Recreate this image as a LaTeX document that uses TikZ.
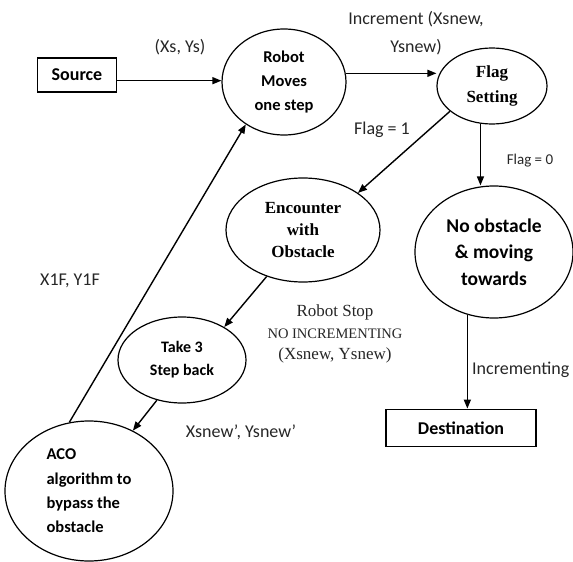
\documentclass[tikz,border=0pt]{standalone}
\usepackage{fontspec}
\setmainfont{Liberation Serif}
\newfontfamily\calibri{Carlito}
\usetikzlibrary{shapes.geometric,arrows.meta}

\begin{document}
\begin{tikzpicture}[x=1pt,y=-1pt,
    oval/.style={ellipse,draw,line width=1.2pt,inner sep=0pt,align=center},
    box/.style={rectangle,draw,line width=1.8pt,inner sep=0pt,
      font=\calibri\bfseries\fontsize{18}{22}\selectfont},
    arr/.style={line width=1.4pt,-{Triangle[length=9pt,width=7pt]}},
    lbl/.style={font=\calibri\fontsize{18}{28}\selectfont,align=center,text=black!85}]
  \useasboundingbox (0,0) rectangle (573,562);
  % boxes
  \node[box,minimum width=79pt,minimum height=34pt] (src) at (77,75) {Source};
  \node[box,minimum width=150pt,minimum height=37pt] (dest) at (461,428) {Destination};
  % ovals
  \node[oval,minimum width=124pt,minimum height=106pt,
    font=\calibri\bfseries\fontsize{16.5}{24}\selectfont] (robot) at (284,82) {Robot\\Moves\\one step};
  \node[oval,minimum width=110pt,minimum height=76pt,
    font=\bfseries\fontsize{17}{25}\selectfont] (flag) at (492,86) {Flag\\Setting};
  \node[oval,minimum width=154pt,minimum height=104pt,
    font=\bfseries\fontsize{17}{22}\selectfont] (enc) at (303,230) {Encounter\\with\\Obstacle};
  \node[oval,minimum width=158pt,minimum height=132pt,
    font=\calibri\bfseries\fontsize{19.5}{26.5}\selectfont] (noobs) at (494,252) {No obstacle\\\& moving\\towards};
  \node[oval,minimum width=128pt,minimum height=86pt,
    font=\calibri\bfseries\fontsize{16}{23}\selectfont] (take) at (182,360) {Take 3\\Step back};
  \node[oval,minimum width=168pt,minimum height=140pt,align=left,
    font=\calibri\bfseries\fontsize{16.5}{24.3}\selectfont] (aco) at (89,491) {ACO\\algorithm to\\bypass the\\obstacle};
  % connectors
  \draw[arr] (src.-8) -- (src.-8 -| robot.west);
  \draw[arr] (robot.8) -- (flag.west |- robot.8);
  \draw[arr] (flag.-107) -- (flag.-107 |- noobs.north);
  \draw[arr] (flag.211) -- (enc.34);
  \draw[arr] (enc.232) -- (take.38);
  \draw[arr] (take.238) -- (aco.54);
  \draw[arr] (aco.106) -- (robot.228);
  \draw[arr] (noobs.247) -- (noobs.247 |- dest.north);
  % labels
  \node[lbl] (lxs) at (180,47) {(Xs, Ys)};
  \node[lbl] (linc) at (416,33) {Increment (Xsnew,\\Ysnew)};
  \node[lbl] (lf1) at (382,130) {Flag = 1};
  \node[lbl,font=\calibri\fontsize{15}{18}\selectfont] (lf0) at (530,161) {Flag = 0};
  \node[lbl] (lx1) at (70,281) {X1F, Y1F};
  \node[lbl,font=\fontsize{17}{21.5}\selectfont] (lstop) at (335,334)
    {Robot Stop\\{\fontsize{14.5}{21.5}\selectfont NO INCREMENTING}\\(Xsnew, Ysnew)};
  \node[lbl] (lxsn) at (241,432) {Xsnew’, Ysnew’};
  \node[lbl,anchor=west,inner sep=0pt] (lincr) at (472,370) {Incrementing};
\end{tikzpicture}
\end{document}
